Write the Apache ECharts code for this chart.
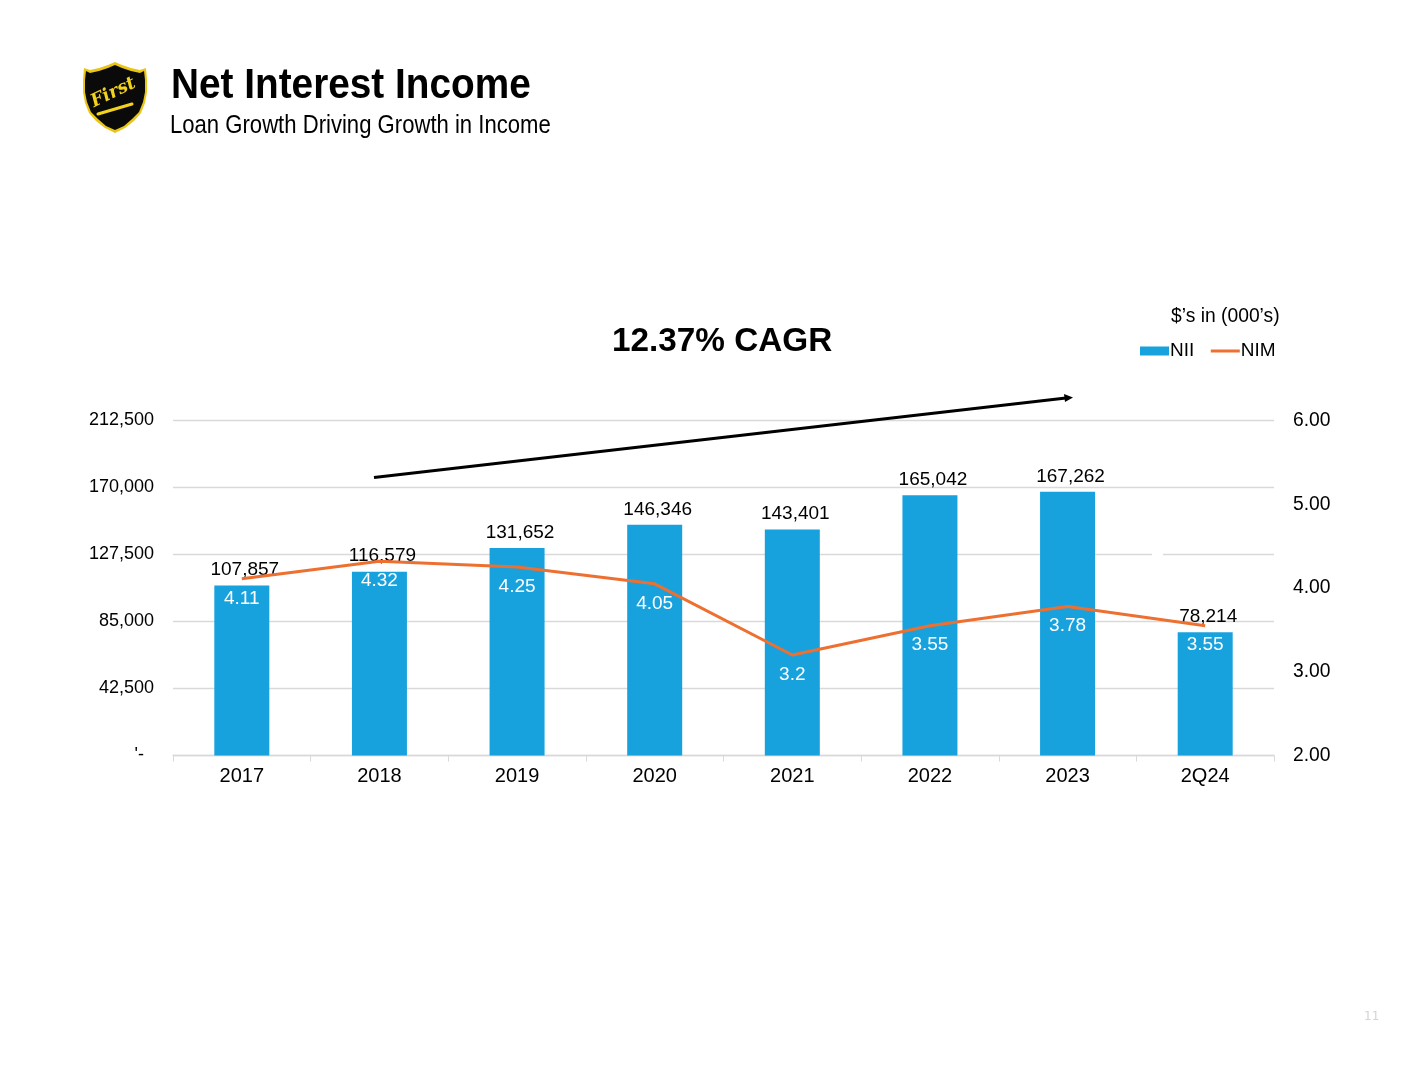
<!DOCTYPE html>
<html><head><meta charset="utf-8">
<style>html,body{margin:0;padding:0;background:#fff}#c{width:1421px;height:1066px}</style>
<script src="https://cdn.jsdelivr.net/npm/echarts@6/dist/echarts.min.js"></script>
</head><body><div id="c"></div>
<script>
const categories = ['2017','2018','2019','2020','2021','2022','2023','2Q24'];
const nii = [107857,116579,131652,146346,143401,165042,167262,78214];
const nim = [4.11,4.32,4.25,4.05,3.2,3.55,3.78,3.55];
const nimLabels = ['4.11','4.32','4.25','4.05','3.2','3.55','3.78','3.55'];
const font = 'Liberation Sans, Arial, sans-serif';
const chart = echarts.init(document.getElementById('c'), null, {renderer:'canvas'});
const shieldOuter = [[115,62],[122,65],[131,68],[140,70],[146,68],[147,80],[147,92],[145,103],[141,113],[134,121],[125,128],[115,133],[105,128],[96,121],[89,113],[85,103],[83,92],[83,80],[84,68],[90,70],[99,68],[108,65]];
const shieldInner = [[115,65],[122,68],[131,71],[140,73],[144,71],[145,80],[145,92],[143,102],[139,112],[132,119],[124,126],[115,130],[106,126],[98,119],[91,112],[87,102],[85,92],[85,80],[86,71],[90,73],[99,71],[108,68]];
function t(x,y,text,size,opts){return Object.assign({type:'text',x:x,y:y,z:20,style:Object.assign({text:text,font:size+'px '+font,fill:'#000',textVerticalAlign:'middle'},opts&&opts.style||{})},opts&&opts.el||{});}
chart.setOption({
  animation:false,
  backgroundColor:'#fff',
  textStyle:{fontFamily:font},
  grid:{left:173,right:147,top:420.5,bottom:310.5,containLabel:false},
  legend:{left:1135,top:336.5,itemWidth:29,itemHeight:9,itemGap:15,
    textStyle:{fontSize:19,color:'#000',fontFamily:font,padding:[0,0,0,-4]},
    data:[{name:'NII',icon:'rect'},{name:'NIM',itemStyle:{opacity:0},lineStyle:{width:3,color:'#ed7031'}}]},
  xAxis:{type:'category',data:categories,
    axisLine:{lineStyle:{color:'#d9d9d9',width:1.3}},
    axisTick:{show:true,alignWithLabel:false,length:6,lineStyle:{color:'#d9d9d9'}},
    axisLabel:{fontSize:20,color:'#000',margin:11,fontFamily:font}},
  yAxis:[
    {type:'value',min:0,max:212500,interval:42500,
      axisLine:{show:false},axisTick:{show:false},
      splitLine:{lineStyle:{color:'#d9d9d9',width:1.3}},
      axisLabel:{fontSize:18,color:'#000',margin:19,fontFamily:font,
        formatter:v=>v===0?"'-  ":v.toLocaleString('en-US')}},
    {type:'value',min:2,max:6,interval:1,position:'right',
      axisLine:{show:false},axisTick:{show:false},splitLine:{show:false},
      axisLabel:{fontSize:19.3,color:'#000',margin:19,fontFamily:font,formatter:v=>v.toFixed(2)}}
  ],
  series:[
    {name:'NII',type:'bar',data:nii,barWidth:55,itemStyle:{color:'#17a2de'},z:2,
      label:{show:true,position:'top',distance:6,offset:[3,0],fontSize:19,color:'#000',fontFamily:font,
        formatter:p=>p.value.toLocaleString('en-US')}},
    {name:'NIM',type:'line',yAxisIndex:1,data:nim,showSymbol:true,symbol:'circle',symbolSize:0,
      lineStyle:{color:'#ed7031',width:3},itemStyle:{color:'#ed7031'},z:3,
      label:{show:true,position:'bottom',distance:10,fontSize:19,color:'#fff',fontFamily:font,
        formatter:p=>nimLabels[p.dataIndex]}}
  ],
  graphic:{elements:[
    t(171,86.5,'Net Interest Income',42,{style:{font:'bold 42px '+font},el:{scaleX:0.923}}),
    t(170,126.5,'Loan Growth Driving Growth in Income',25,{el:{scaleX:0.884}}),
    t(612,341.5,'12.37% CAGR',33.3,{style:{font:'bold 33.3px '+font}}),
    t(1171,317,'$\u2019s in (000\u2019s)',19.3),
    t(1364,1017,'11',12,{style:{fill:'#d4d4d4',font:'12px "DejaVu Sans", sans-serif'}}),
    {type:'rect',z:5,shape:{x:1152,y:552,width:11,height:4},style:{fill:'#fff'}},
    {type:'line',z:20,shape:{x1:374,y1:477.5,x2:1066,y2:398},style:{stroke:'#000',lineWidth:3}},
    {type:'polygon',z:20,shape:{points:[[1073,397.5],[1064,394],[1065,402]]},style:{fill:'#000'}},
    {type:'polygon',z:20,shape:{points:shieldOuter},style:{fill:'#e9c516'}},
    {type:'polygon',z:21,shape:{points:shieldInner},style:{fill:'#0a0a0a'}},
    {type:'text',z:22,x:92,y:103,rotation:0.45,style:{text:'First',font:'italic bold 18px "DejaVu Serif", serif',fill:'#f2d21c',textVerticalAlign:'middle'}},
    {type:'line',z:22,shape:{x1:98,y1:114,x2:132,y2:104},style:{stroke:'#f2d21c',lineWidth:3,lineCap:'round'}}
  ]}
});
</script></body></html>
